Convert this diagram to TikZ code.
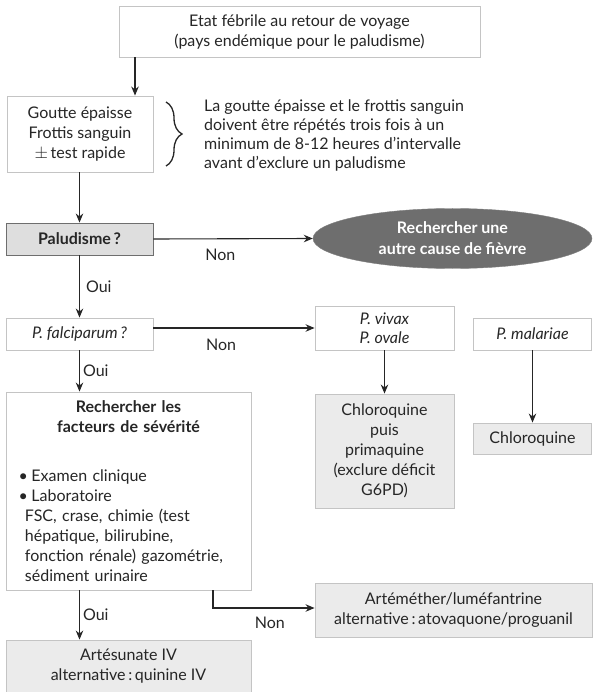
\documentclass[tikz,border=0pt]{standalone}
\usepackage{fontspec}
\setmainfont{Lato}
\usetikzlibrary{arrows.meta, positioning, shapes.geometric, decorations.pathreplacing}
\definecolor{EdgeGrey}{HTML}{C4C4C4}
\definecolor{BoxGrey}{HTML}{EBEBEB}
\definecolor{AskGrey}{HTML}{DEDEDE}
\definecolor{OvalGrey}{HTML}{6E6E6E}
\definecolor{Ink}{HTML}{262626}
\tikzset{
  wbox/.style={draw=EdgeGrey, line width=0.9pt, fill=white, align=center,
    inner sep=0pt, text=Ink, font=\fontsize{16}{20}\selectfont},
  gbox/.style={wbox, fill=BoxGrey},
  qbox/.style={wbox, draw=OvalGrey, fill=AskGrey},
  obox/.style={ellipse, draw=OvalGrey!90, fill=OvalGrey, align=center, inner sep=0pt,
    text=white, font=\fontsize{16}{21}\selectfont\bfseries},
  flow/.style={-{Stealth[length=9pt, width=7.5pt]}, line width=1.1pt, draw=Ink},
  lbl/.style={inner sep=0pt, text=Ink, font=\fontsize{16}{19}\selectfont},
}

\begin{document}
\begin{tikzpicture}[x=1pt, y=-1pt]
    \useasboundingbox (0,0) rectangle (592,692);
    % column on the left
    \node[wbox, minimum width=361, minimum height=51] (etat) at (299.5,31.5)
      {Etat fébrile au retour de voyage\\(pays endémique pour le paludisme)};
    \node[wbox, minimum width=146, minimum height=76] (goutte) at (80,134)
      {Goutte épaisse\\Frottis sanguin\\$\pm$\,test rapide};
    \node[qbox, minimum width=147, minimum height=32, font=\fontsize{16}{20}\selectfont\bfseries] (palu) at (79.5,239) {Paludisme\,?};
    \node[wbox, minimum width=147, minimum height=32] (falci) at (79.5,334) {\itshape P. falciparum\,?};
    \node[wbox, minimum width=245, minimum height=198, text width=240pt, align=left] (sev) at (128.5,491)
      {{\centering\bfseries Rechercher les\\facteurs de sévérité\par}\vspace{29pt}
       \hspace*{10pt}\makebox[13pt][l]{\textbullet}Examen clinique\\
       \hspace*{10pt}\makebox[13pt][l]{\textbullet}Laboratoire\\
       \hspace*{16.5pt}FSC, crase, chimie (test\\
       \hspace*{16.5pt}hépatique, bilirubine,\\
       \hspace*{16.5pt}fonction rénale) gazométrie,\\
       \hspace*{16.5pt}sédiment urinaire};
    \node[gbox, minimum width=245, minimum height=52] (artes) at (128.5,666)
      {Artésunate IV\\alternative\,:\,quinine IV};
    % note and brace
    \coordinate (bt) at (166,102);
    \coordinate (bb) at (166,166);
    \draw[Ink, line width=1.3pt, decorate, decoration={brace, amplitude=16pt}] (bt) -- (bb);
    \node[lbl, anchor=west, align=left] (note) at (204,135)
      {La goutte épaisse et le frottis sanguin\\doivent être répétés trois fois à un\\minimum de 8-12 heures d’intervalle\\avant d’exclure un paludisme};
    % right side
    \node[obox, minimum width=279, minimum height=60] (autre) at (452.5,238.5)
      {Rechercher une\\autre cause de fièvre};
    \node[wbox, minimum width=139, minimum height=44, font=\fontsize{16}{19}\selectfont\itshape] (vivax) at (384.5,328)
      {P. vivax\\P. ovale};
    \node[wbox, minimum width=118, minimum height=32] (malar) at (532.5,334) {\itshape P. malariae};
    \node[gbox, minimum width=139, minimum height=114] (chlprim) at (384.5,451)
      {Chloroquine\\puis\\primaquine\\(exclure déficit\\G6PD)};
    \node[gbox, minimum width=118, minimum height=31] (chlor) at (532.5,438.5) {Chloroquine};
    \node[gbox, minimum width=277, minimum height=54] (artem) at (453.5,610)
      {Artéméther/luméfantrine\\alternative\,:\,atovaquone/proguanil};
    % connectors
    \draw[flow] ([xshift=55pt]goutte.north |- etat.south) -- ([xshift=55pt]goutte.north);
    \draw[flow] (goutte.south -| palu) -- (palu.north);
    \draw[flow] (palu.east) -- (autre.west) node[lbl, pos=0.42, below=10pt] {Non};
    \draw[flow] (palu.south) -- (falci.north) node[lbl, midway, right=6pt] {Oui};
    \draw[flow] ([yshift=6pt]falci.east) -- (vivax.west) node[lbl, pos=0.42, below=10pt] {Non};
    \draw[flow] (falci.south) -- (falci.south |- sev.north) node[lbl, midway, right=3pt] {Oui};
    \draw[flow] (vivax.south) -- (chlprim.north);
    \draw[flow] (malar.south) -- (chlor.north);
    \draw[flow] (sev.south -| falci) -- (artes.north -| falci) node[lbl, midway, right=3pt] {Oui};
    \draw[flow] ([xshift=84.5pt]sev.south) |- ([yshift=2pt]artem.west) node[lbl, pos=0.78, below=8pt] {Non};
  \end{tikzpicture}
\end{document}
